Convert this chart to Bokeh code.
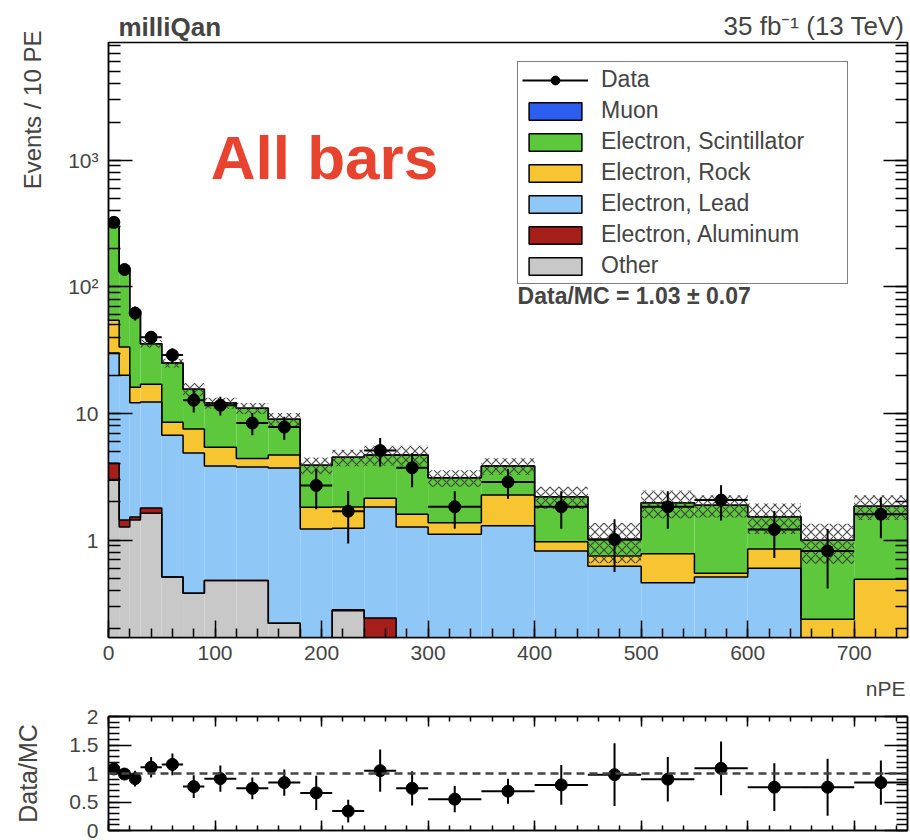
import numpy as np
from bokeh.plotting import figure
from bokeh.layouts import column, row
from bokeh.models import (Legend, LegendItem, Label, LinearAxis, LogAxis,
                          SingleIntervalTicker, LogTicker, Span, CustomJSTickFormatter)
from bokeh.embed import file_html
from bokeh.resources import INLINE

FONT = "Liberation Sans"

# ---------------- data ----------------
bin_edges = [0, 10, 20, 30, 50, 70, 90, 120, 150, 180, 210, 240, 270, 300,
             350, 400, 450, 500, 550, 600, 650, 700, 750]
other = [2.97, 1.27, 1.44, 1.63, 0.51, 0.38, 0.48, 0.48, 0.22, 0.0, 0.277,
         0.0, 0.0, 0.0, 0.0, 0.0, 0.0, 0.0, 0.0, 0.0, 0.0, 0.0]
aluminum = [1.08, 0.17, 0.08, 0.16, 0.0, 0.0, 0.0, 0.0, 0.0, 0.0, 0.005,
            0.242, 0.0, 0.0, 0.0, 0.0, 0.0, 0.0, 0.0, 0.0, 0.0, 0.0]
lead = [25.9, 18.6, 10.6, 10.5, 6.2, 4.5, 3.36, 3.29, 3.48, 1.22, 0.96,
        1.58, 1.27, 1.11, 1.3, 0.82, 0.62, 0.46, 0.51, 0.6, 0.0, 0.0]
rock = [24.6, 13.4, 4.0, 4.7, 1.8, 2.64, 1.56, 0.63, 1.0, 0.6, 0.58,
        0.32, 0.33, 0.26, 0.97, 0.15, 0.13, 0.32, 0.036, 0.25, 0.237, 0.49]
scint = [245.0, 104.6, 48.9, 18.5, 16.5, 8.0, 6.7, 6.6, 4.3, 2.08, 2.68,
         2.56, 3.1, 1.73, 1.58, 1.23, 0.26, 1.19, 1.34, 0.68, 0.76, 1.36]
muon = [0.0] * 22
mc_rel_unc = [0.04, 0.05, 0.06, 0.07, 0.08, 0.12, 0.10, 0.10, 0.12, 0.15, 0.15,
              0.18, 0.18, 0.15, 0.15, 0.20, 0.35, 0.25, 0.20, 0.27, 0.35, 0.22]
data = [323, 137, 62, 40, 28.9, 12.7, 11.6, 8.4, 7.8, 2.7, 1.69, 5.1, 3.72,
        1.83, 2.88, 1.83, 1.01, 1.83, 2.07, 1.21, 0.82, 1.6]
data_err = [18.0, 11.7, 7.9, 4.47, 3.8, 2.52, 1.97, 1.67, 1.61, 0.95, 0.75,
            1.30, 1.11, 0.6, 0.76, 0.6, 0.45, 0.6, 0.64, 0.49, 0.405, 0.566]
ratio = [1.08, 0.99, 0.91, 1.11, 1.16, 0.77, 0.91, 0.74, 0.84, 0.66, 0.34,
         1.05, 0.74, 0.55, 0.69, 0.80, 0.98, 0.90, 1.09, 0.76, 0.76, 0.84]
ratio_err = [0.06, 0.08, 0.14, 0.18, 0.19, 0.20, 0.23, 0.19, 0.23, 0.30, 0.20,
             0.37, 0.30, 0.23, 0.22, 0.35, 0.55, 0.39, 0.47, 0.42, 0.50, 0.39]
y_tick_labels = {1: "1", 10: "10", 100: "10\u00b2", 1000: "10\u00b3"}

comp_names = ["Other", "Electron, Aluminum", "Electron, Lead", "Electron, Rock",
              "Electron, Scintillator", "Muon"]
comp_values = [other, aluminum, lead, rock, scint, muon]
comp_colors = ["#c8c8c8", "#a61e1a", "#8fc7f7", "#f7c432", "#5dc83c", "#2c5ff0"]

# ---------------- derived arrays ----------------
edges = np.array(bin_edges, dtype=float)
left, right = edges[:-1], edges[1:]
centers = 0.5 * (left + right)
FLOOR = 1e-3
BLANK = CustomJSTickFormatter(code="return ''")


def strip(x0, x1, h, bl, br):
    f = figure(frame_width=x1 - x0, height=h, x_range=(x0, x1), y_range=(0, h),
               min_border_left=bl, min_border_right=br, min_border_top=0,
               min_border_bottom=0, x_axis_location=None, y_axis_location=None,
               output_backend="svg", toolbar_location=None)
    f.grid.visible = False
    f.outline_line_color = None
    return f


# ---------------- main panel ----------------
p = figure(x_range=(0, 750), y_range=(0.17, 8500), y_axis_type="log",
           frame_width=799, frame_height=595,
           min_border_left=58, min_border_right=3, min_border_top=1,
           min_border_bottom=35, output_backend="svg", toolbar_location=None)
p.xgrid.visible = False
p.ygrid.visible = False
p.outline_line_color = "black"
p.outline_line_width = 1.5

base = np.zeros(len(left))
levels = []
for vals, col in zip(comp_values, comp_colors):
    top = base + np.array(vals, dtype=float)
    m = top > base
    if m.any():
        p.quad(left=left[m], right=right[m], bottom=np.maximum(base[m], FLOOR),
               top=top[m], fill_color=col, line_color=None)
    levels.append(top.copy())
    base = top

for lv in levels:
    y = np.maximum(lv, FLOOR)
    p.step(x=edges, y=np.append(y, y[-1]), mode="after",
           line_color="black", line_width=1.5)

total = levels[-1]
unc = np.array(mc_rel_unc)
p.quad(left=left, right=right, bottom=total * (1 - unc), top=total * (1 + unc),
       fill_alpha=0, line_color=None, hatch_pattern="diagonal_cross",
       hatch_color="#3a3a3a", hatch_alpha=0.9, hatch_scale=9, hatch_weight=1.2)

d = np.array(data, dtype=float)
de = np.array(data_err, dtype=float)
p.segment(x0=centers, y0=d - de, x1=centers, y1=d + de, line_color="black", line_width=2)
p.segment(x0=left, y0=d, x1=right, y1=d, line_color="black", line_width=2)
p.scatter(x=centers, y=d, size=12, marker="circle", color="black")

# legend proxies (outside the visible x range)
lg_line = p.line(x=[-60, -50], y=[1, 1], line_color="black", line_width=2)
lg_dot = p.scatter(x=[-55], y=[1], marker="circle", size=12, color="black")
items = [LegendItem(label="Data", renderers=[lg_line, lg_dot])]
for name in ["Muon", "Electron, Scintillator", "Electron, Rock", "Electron, Lead",
             "Electron, Aluminum", "Other"]:
    col = comp_colors[comp_names.index(name)]
    r = p.quad(left=[-60], right=[-50], bottom=[1], top=[2], fill_color=col,
               line_color="black", line_width=1.5)
    items.append(LegendItem(label=name, renderers=[r]))

legend = Legend(items=items, location=(409, 353), padding=4, spacing=4,
                glyph_width=66, glyph_height=22, label_height=22, label_width=242,
                label_standoff=13, margin=0,
                label_text_font=FONT, label_text_font_size="23px",
                border_line_color="black", border_line_width=1.5,
                background_fill_color="white", background_fill_alpha=1)
p.add_layout(legend)

xa = p.xaxis[0]
xa.ticker = SingleIntervalTicker(interval=100, num_minor_ticks=5)
ya = p.yaxis[0]
ya.ticker = LogTicker(num_minor_ticks=10)
ya.major_label_overrides = y_tick_labels
for ax, maj, mnr in [(xa, 17, 9), (ya, 24, 12)]:
    ax.major_tick_in = maj
    ax.major_tick_out = 0
    ax.minor_tick_in = mnr
    ax.minor_tick_out = 0
    ax.major_label_text_font = FONT
    ax.major_label_text_font_size = "21px"
    ax.axis_line_width = 1.5
    ax.major_tick_line_width = 1.5
    ax.minor_tick_line_width = 1.5
xa.major_label_standoff = 8
ya.major_label_standoff = 10

ra = LogAxis(ticker=LogTicker(num_minor_ticks=10), formatter=BLANK,
             major_tick_in=24, major_tick_out=0,
             minor_tick_in=12, minor_tick_out=0, major_label_text_font_size="10px",
             major_label_standoff=0, axis_line_width=1.5, major_tick_line_width=1.5,
             minor_tick_line_width=1.5)
p.add_layout(ra, "right")

p.add_layout(Label(x=96, y=1050, text="All bars", text_color="#e8432f",
                   text_font=FONT, text_font_style="bold", text_font_size="62px",
                   text_baseline="middle"))
p.add_layout(Label(x=384, y=85, text="Data/MC = 1.03 \u00b1 0.07",
                   text_font=FONT, text_font_style="bold", text_font_size="23px",
                   text_baseline="middle"))

# ---------------- header, left label strip, x label strip ----------------
header = strip(108, 907, 41, 58, 3)
header.add_layout(Label(x=118, y=15, text="milliQan", text_font=FONT,
                        text_font_style="bold", text_font_size="26px",
                        text_baseline="middle"))
header.add_layout(Label(x=904, y=16, text="35 fb\u207b\u00b9 (13 TeV)", text_align="right",
                        text_font=FONT, text_font_size="26px", text_baseline="middle"))

lstrip = figure(width=50, height=672, x_range=(0, 50), y_range=(0, 672), min_border=0,
                x_axis_location=None, y_axis_location=None,
                output_backend="svg", toolbar_location=None)
lstrip.grid.visible = False
lstrip.outline_line_color = None
lstrip.add_layout(Label(x=32, y=642, text="Events / 10 PE", angle=np.pi / 2,
                        text_align="right", text_baseline="middle",
                        text_font=FONT, text_font_size="24px"))

mid = strip(108, 907, 30, 108, 3)
mid.add_layout(Label(x=905, y=14, text="nPE", text_align="right", text_baseline="middle",
                     text_font=FONT, text_font_size="21px"))

# ---------------- ratio panel ----------------
rp = figure(x_range=p.x_range, y_range=(0, 2), frame_width=799, frame_height=114,
            min_border_left=108, min_border_right=3, min_border_top=14,
            min_border_bottom=10, output_backend="svg", toolbar_location=None)
rp.xgrid.visible = False
rp.ygrid.visible = False
rp.outline_line_color = "black"
rp.outline_line_width = 1.5

rp.add_layout(Span(location=1, dimension="width", line_color="#444444",
                   line_width=2.5, line_dash="8 5"))
rr = np.array(ratio)
re = np.array(ratio_err)
rp.segment(x0=centers, y0=rr - re, x1=centers, y1=rr + re, line_color="black", line_width=2)
rp.segment(x0=left, y0=rr, x1=right, y1=rr, line_color="black", line_width=2)
rp.scatter(x=centers, y=rr, size=12, marker="circle", color="black")

rx = rp.xaxis[0]
rx.ticker = SingleIntervalTicker(interval=100, num_minor_ticks=5)
rx.formatter = BLANK
rx.major_label_text_font_size = "4px"
rx.major_label_standoff = 0
ry = rp.yaxis[0]
ry.ticker = SingleIntervalTicker(interval=0.5, num_minor_ticks=5)
ry.axis_label = "Data/MC"
ry.axis_label_text_font = FONT
ry.axis_label_text_font_style = "normal"
ry.axis_label_text_font_size = "25px"
ry.axis_label_standoff = 24
ry.major_label_text_font = FONT
ry.major_label_text_font_size = "21px"
ry.major_label_standoff = 10
for ax, maj, mnr in [(rx, 10, 5), (ry, 23, 11)]:
    ax.major_tick_in = maj
    ax.major_tick_out = 0
    ax.minor_tick_in = mnr
    ax.minor_tick_out = 0
    ax.axis_line_width = 1.5
    ax.major_tick_line_width = 1.5
    ax.minor_tick_line_width = 1.5

top_ax = LinearAxis(ticker=SingleIntervalTicker(interval=100, num_minor_ticks=5),
                    formatter=BLANK,
                    major_tick_in=10, major_tick_out=0, minor_tick_in=5, minor_tick_out=0,
                    major_label_text_font_size="4px", major_label_standoff=0,
                    axis_line_width=1.5, major_tick_line_width=1.5, minor_tick_line_width=1.5)
rp.add_layout(top_ax, "above")
right_ax = LinearAxis(ticker=SingleIntervalTicker(interval=0.5, num_minor_ticks=5),
                      formatter=BLANK,
                      major_tick_in=23, major_tick_out=0, minor_tick_in=11, minor_tick_out=0,
                      major_label_text_font_size="10px", major_label_standoff=0,
                      axis_line_width=1.5, major_tick_line_width=1.5, minor_tick_line_width=1.5)
rp.add_layout(right_ax, "right")

layout = column(row(lstrip, column(header, p, spacing=0), spacing=0), mid, rp, spacing=0)
open("out.html", "w").write(file_html(layout, INLINE))
